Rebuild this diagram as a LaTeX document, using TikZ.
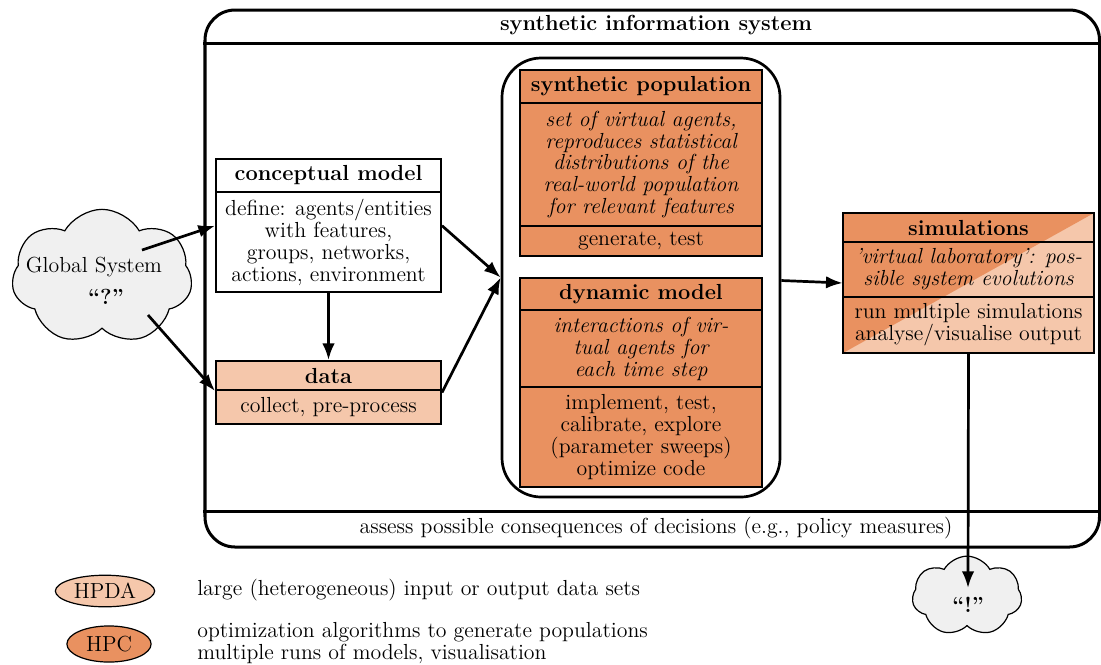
\documentclass[tikz,border=0pt]{standalone}
\usepackage{fontspec}
\usetikzlibrary{shapes.symbols,shapes.geometric,arrows.meta,fit,calc}
\definecolor{hpc}{RGB}{233,145,96}
\definecolor{hpda}{RGB}{245,199,171}
\definecolor{cloudgray}{RGB}{240,240,240}
\newcommand{\fsz}{\fontsize{14.5}{14.6}\selectfont}
\newcommand{\pxu}{0.665pt}
\begin{document}
\begin{tikzpicture}[x=0.665pt,y=-0.665pt,
  font=\fsz,
  box/.style={draw, line width=1.3pt, inner sep=0pt, align=center},
  bw/.style={minimum width=#1*\pxu},
  bh/.style={minimum height=#1*\pxu},
  arr/.style={line width=1.8pt, -{Latex}},
  cloudnode/.style={cloud, cloud puffs=7, cloud puff arc=120, cloud ignores aspect, draw, line width=0.8pt, fill=cloudgray},
  legend/.style={ellipse, draw, line width=0.8pt, inner sep=0pt}]
\useasboundingbox (0,0) rectangle (1101,664);

% outer system box
\node[draw, line width=2pt, rounded corners=20pt, inner sep=0pt, fit={(205,10) (1099.5,547)}] (sis) {};
\node[font=\fsz\bfseries] (sistitle) at (656,25) {synthetic information system};
\draw[line width=2pt] (sis.west |- 0,43) -- (sis.east |- 0,43);
\draw[line width=2pt] (sis.west |- 0,511) -- (sis.east |- 0,511);
\node (assess) at (656,528) {assess possible consequences of decisions (e.g., policy measures)};

% inner rounded box
\node[draw, line width=1.8pt, rounded corners=26pt, inner sep=0pt, fit={(502,58) (780,497)}] (inner) {};

% conceptual model
\node[box, bw=225, bh=33, font=\fsz\bfseries] (cmh) at (328.5,175.5) {conceptual model};
\node[box, bw=225, bh=100] (cmb) at (328.5,242) {define: agents/entities\\with features,\\groups, networks,\\actions, environment};

% data
\node[box, fill=hpda, bw=225, bh=29, font=\fsz\bfseries] (dath) at (328.5,375.5) {data};
\node[box, fill=hpda, bw=225, bh=34] (datb) at (328.5,407) {collect, pre-process};

% synthetic population
\node[box, fill=hpc, bw=242, bh=33, font=\fsz\bfseries] (sph) at (641,86.5) {synthetic population};
\node[box, fill=hpc, bw=242, bh=123, font=\fsz\itshape] (spb) at (641,164.5) {set of virtual agents,\\reproduces statistical\\distributions of the\\real-world population\\for relevant features};
\node[box, fill=hpc, bw=242, bh=30] (spf) at (641,241) {generate, test};

% dynamic model
\node[box, fill=hpc, bw=242, bh=32, font=\fsz\bfseries] (dmh) at (641,294) {dynamic model};
\node[box, fill=hpc, bw=242, bh=77, font=\fsz\itshape] (dmb) at (641,348.5) {interactions of vir-\\tual agents for\\each time step};
\node[box, fill=hpc, bw=242, bh=100] (dmf) at (641,437) {implement, test,\\calibrate, explore\\(parameter sweeps)\\optimize code};

% simulations (split fill)
\fill[hpda] (843,213) rectangle (1094,353);
\fill[hpc] (843,213) -- (1094,213) -- (843,353) -- cycle;
\node[inner sep=0pt, bw=251, bh=140] (sim) at (968.5,283) {};
\node[box, bw=251, bh=29, font=\fsz\bfseries] (simh) at (968.5,227.5) {simulations};
\node[box, bw=251, bh=55, font=\fsz\itshape] (simb) at (968.5,269.5) {’virtual laboratory’: pos-\\sible system evolutions};
\node[box, bw=251, bh=56] (simf) at (968.5,325) {run multiple simulations\\analyse/visualise output};

% clouds
\node[cloudnode, minimum width=120pt, minimum height=90pt] (gs) at (102,277) {};
\node (gstext) at (94,267) {Global System};
\node[font=\fsz\bfseries] (gsq) at (106,297) {“?”};
\node[cloudnode, minimum width=73pt, minimum height=53pt] (out) at (967,596) {};
\node[font=\fsz\bfseries] (outq) at (968,605) {“!”};

\coordinate (gs1) at (142,250);
\coordinate (gs2) at (148,315);
\coordinate (outend) at (968,588);

% connectors
\draw[arr] (gs1) -- ($(cmb.north west)!0.34!(cmb.south west)$);
\draw[arr] (gs2) -- (dath.south west);
\draw[arr] (cmb.south) -- (dath.north);
\draw[arr] ($(cmb.north east)!0.34!(cmb.south east)$) -- (inner.west);
\draw[arr] ([yshift=-1pt]dath.south east) -- (inner.west);
\draw[arr] ([yshift=-2pt]inner.east) -- (sim.west);
\draw[arr] (sim.south) -- (outend);

% legend
\node[legend, fill=hpda, minimum width=66pt, minimum height=21pt] (hpda) at (105,591) {HPDA};
\node[anchor=west] (hpdatext) at (192,590) {large (heterogeneous) input or output data sets};
\node[legend, fill=hpc, minimum width=56pt, minimum height=24pt] (hpcn) at (109,644) {HPC};
\node[anchor=west, align=left] (hpctext) at (192,643) {optimization algorithms to generate populations\\multiple runs of models, visualisation};
\end{tikzpicture}
\end{document}
